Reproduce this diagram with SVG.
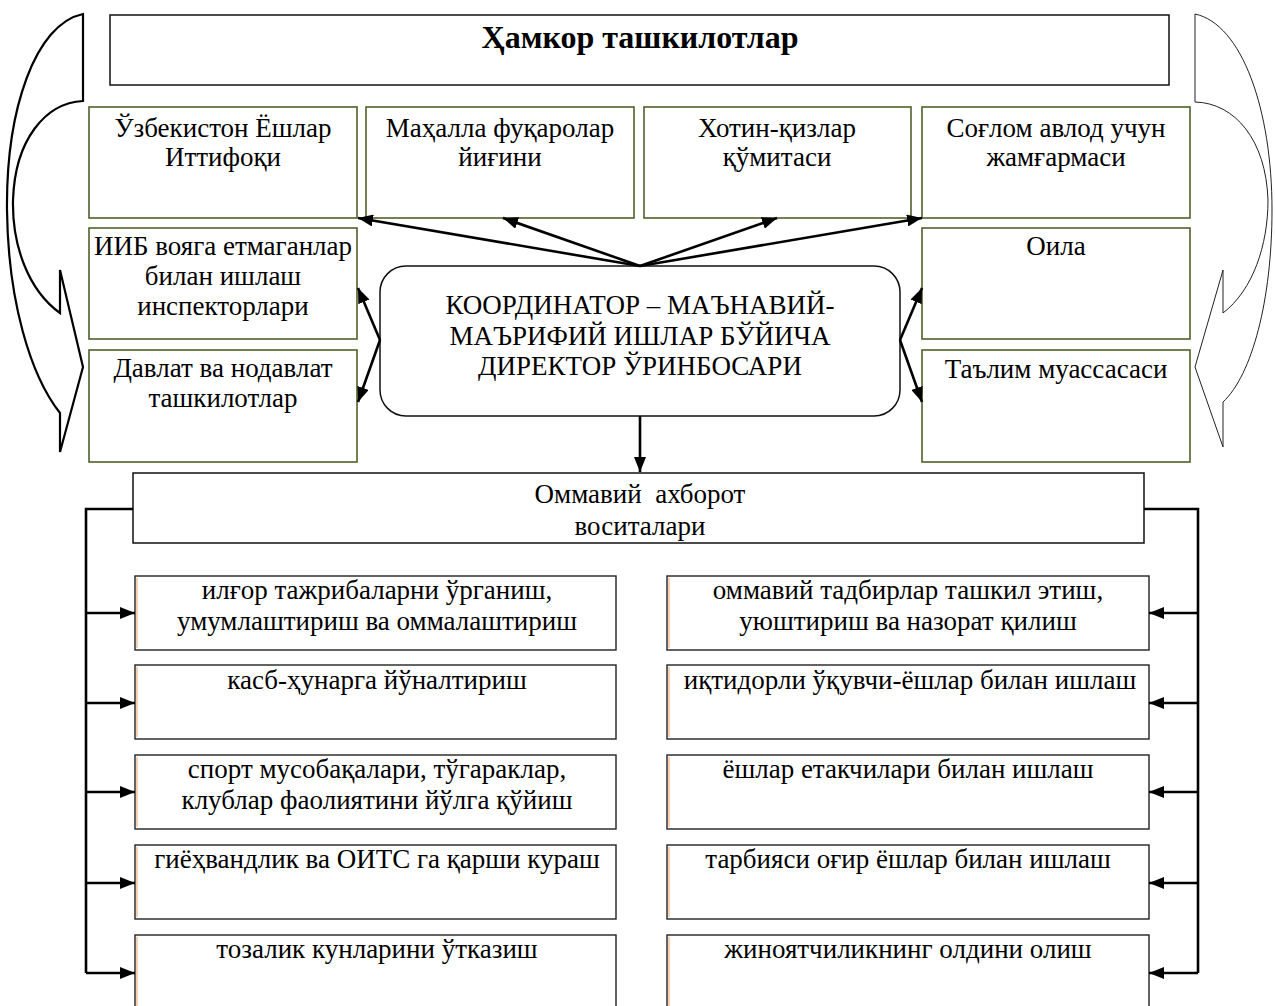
<svg xmlns="http://www.w3.org/2000/svg" width="1275" height="1006" viewBox="0 0 1275 1006">
<defs>
<style>
text{font-family:"Liberation Serif","Times New Roman",serif;font-size:27px;fill:#000;text-anchor:middle}
.title{font-weight:bold;font-size:32px}
.g{fill:#fff;stroke:#4f6228;stroke-width:1.6}
.b{fill:#fff;stroke:#111;stroke-width:1.5}
.lb{fill:#fff;stroke:#222;stroke-width:1.4}
.pe{stroke:#f8d0b0;stroke-width:2}
.con{stroke:#000;stroke-width:2.6;fill:none}
</style>
<marker id="ah" markerUnits="userSpaceOnUse" markerWidth="16" markerHeight="12" refX="15" refY="6" orient="auto">
<path d="M0,0 L15,6 L0,12 z" fill="#000"/>
</marker>
</defs>
<rect width="1275" height="1006" fill="#fff"/>

<g id="curved-left">
<path d="M83,14 C35,24 6,110 7,210 C8,300 30,375 60,413 L60,452 L83,367 L60,270 L60,313 C28,290 12,245 13,200 C15,140 45,103 83,101 Z" fill="#fff" stroke="#000" stroke-width="2.2"/>
</g>
<g id="curved-right">
<path d="M1195,14 C1242,24 1272,110 1272,210 C1272,300 1252,375 1223,402 L1223,447 L1195,367 L1223,270 L1223,313 C1253,290 1268,245 1268,200 C1266,140 1235,103 1195,102 Z" fill="#fff" stroke="#222" stroke-width="1"/>
</g>

<g id="title">
<rect class="b" x="110" y="15" width="1059" height="70"/>
<text class="title" x="640" y="48">Ҳамкор ташкилотлар</text>
</g>

<g id="n1"><rect class="g" x="89" y="107" width="268" height="111"/>
<text x="223" y="137">Ўзбекистон Ёшлар</text><text x="223" y="166">Иттифоқи</text></g>
<g id="n2"><rect class="g" x="366" y="107" width="268" height="111"/>
<text x="500" y="137">Маҳалла фуқаролар</text><text x="500" y="166">йиғини</text></g>
<g id="n3"><rect class="g" x="644" y="107" width="267" height="111"/>
<text x="777" y="137">Хотин-қизлар</text><text x="777" y="166">қўмитаси</text></g>
<g id="n4"><rect class="g" x="922" y="107" width="268" height="111"/>
<text x="1056" y="137">Соғлом авлод учун</text><text x="1056" y="166">жамғармаси</text></g>

<g id="n5"><rect class="g" x="89" y="228" width="268" height="111"/>
<text x="223" y="255">ИИБ вояга етмаганлар</text><text x="223" y="285">билан ишлаш</text><text x="223" y="315">инспекторлари</text></g>
<g id="n6"><rect class="g" x="89" y="350" width="268" height="112"/>
<text x="223" y="377">Давлат ва нодавлат</text><text x="223" y="407">ташкилотлар</text></g>
<g id="n7"><rect class="g" x="922" y="228" width="268" height="111"/>
<text x="1056" y="255">Оила</text></g>
<g id="n8"><rect class="g" x="922" y="350" width="268" height="112"/>
<text x="1056" y="378">Таълим муассасаси</text></g>

<g id="coordinator"><rect class="b" x="380" y="266" width="520" height="150" rx="26" ry="26"/>
<text x="640" y="314">КООРДИНАТОР – МАЪНАВИЙ-</text>
<text x="640" y="345">МАЪРИФИЙ ИШЛАР БЎЙИЧА</text>
<text x="640" y="375">ДИРЕКТОР ЎРИНБОСАРИ</text></g>

<g id="media"><rect class="b" x="133" y="473" width="1011" height="70"/>
<text x="640" y="503" xml:space="preserve">Оммавий  ахборот</text>
<text x="640" y="535">воситалари</text></g>

<g id="l1"><rect class="lb" x="135" y="576" width="481" height="74"/><line class="pe" x1="137" y1="578" x2="137" y2="648"/>
<text x="377" y="599">илғор тажрибаларни ўрганиш,</text><text x="377" y="630">умумлаштириш ва оммалаштириш</text></g>
<g id="l2"><rect class="lb" x="135" y="665" width="481" height="74"/><line class="pe" x1="137" y1="667" x2="137" y2="737"/>
<text x="377" y="689">касб-ҳунарга йўналтириш</text></g>
<g id="l3"><rect class="lb" x="135" y="755" width="481" height="74"/><line class="pe" x1="137" y1="757" x2="137" y2="827"/>
<text x="377" y="778">спорт мусобақалари, тўгараклар,</text><text x="377" y="809">клублар фаолиятини йўлга қўйиш</text></g>
<g id="l4"><rect class="lb" x="135" y="845" width="481" height="74"/><line class="pe" x1="137" y1="847" x2="137" y2="917"/>
<text x="377" y="868">гиёҳвандлик ва ОИТС га қарши кураш</text></g>
<g id="l5"><rect class="lb" x="135" y="935" width="481" height="80"/><line class="pe" x1="137" y1="937" x2="137" y2="1006"/>
<text x="377" y="958">тозалик кунларини ўтказиш</text></g>

<g id="r1"><rect class="lb" x="667" y="576" width="482" height="74"/><line class="pe" x1="669" y1="578" x2="669" y2="648"/>
<text x="908" y="599">оммавий тадбирлар ташкил этиш,</text><text x="908" y="630">уюштириш ва назорат қилиш</text></g>
<g id="r2"><rect class="lb" x="667" y="665" width="482" height="74"/><line class="pe" x1="669" y1="667" x2="669" y2="737"/>
<text x="910" y="689">иқтидорли ўқувчи-ёшлар билан ишлаш</text></g>
<g id="r3"><rect class="lb" x="667" y="755" width="482" height="74"/><line class="pe" x1="669" y1="757" x2="669" y2="827"/>
<text x="908" y="778">ёшлар етакчилари билан ишлаш</text></g>
<g id="r4"><rect class="lb" x="667" y="845" width="482" height="74"/><line class="pe" x1="669" y1="847" x2="669" y2="917"/>
<text x="908" y="868">тарбияси оғир ёшлар билан ишлаш</text></g>
<g id="r5"><rect class="lb" x="667" y="935" width="482" height="80"/><line class="pe" x1="669" y1="937" x2="669" y2="1006"/>
<text x="908" y="958">жиноятчиликнинг олдини олиш</text></g>

<g id="connectors" class="con">
<line x1="640" y1="266" x2="358" y2="218" marker-end="url(#ah)"/>
<line x1="640" y1="266" x2="503" y2="218" marker-end="url(#ah)"/>
<line x1="640" y1="266" x2="777" y2="218" marker-end="url(#ah)"/>
<line x1="640" y1="266" x2="922" y2="218" marker-end="url(#ah)"/>
<line x1="380" y1="340" x2="358" y2="288" marker-end="url(#ah)"/>
<line x1="380" y1="340" x2="358" y2="402" marker-end="url(#ah)"/>
<line x1="900" y1="340" x2="922" y2="288" marker-end="url(#ah)"/>
<line x1="900" y1="340" x2="922" y2="402" marker-end="url(#ah)"/>
<line x1="640" y1="416" x2="640" y2="472" marker-end="url(#ah)"/>
<path d="M133,509 H86 V973"/>
<line x1="86" y1="613" x2="135" y2="613" marker-end="url(#ah)"/>
<line x1="86" y1="703" x2="135" y2="703" marker-end="url(#ah)"/>
<line x1="86" y1="792" x2="135" y2="792" marker-end="url(#ah)"/>
<line x1="86" y1="883" x2="135" y2="883" marker-end="url(#ah)"/>
<line x1="86" y1="973" x2="135" y2="973" marker-end="url(#ah)"/>
<path d="M1144,509 H1198 V973"/>
<line x1="1198" y1="613" x2="1149" y2="613" marker-end="url(#ah)"/>
<line x1="1198" y1="703" x2="1149" y2="703" marker-end="url(#ah)"/>
<line x1="1198" y1="792" x2="1149" y2="792" marker-end="url(#ah)"/>
<line x1="1198" y1="883" x2="1149" y2="883" marker-end="url(#ah)"/>
<line x1="1198" y1="973" x2="1149" y2="973" marker-end="url(#ah)"/>
</g>
</svg>
